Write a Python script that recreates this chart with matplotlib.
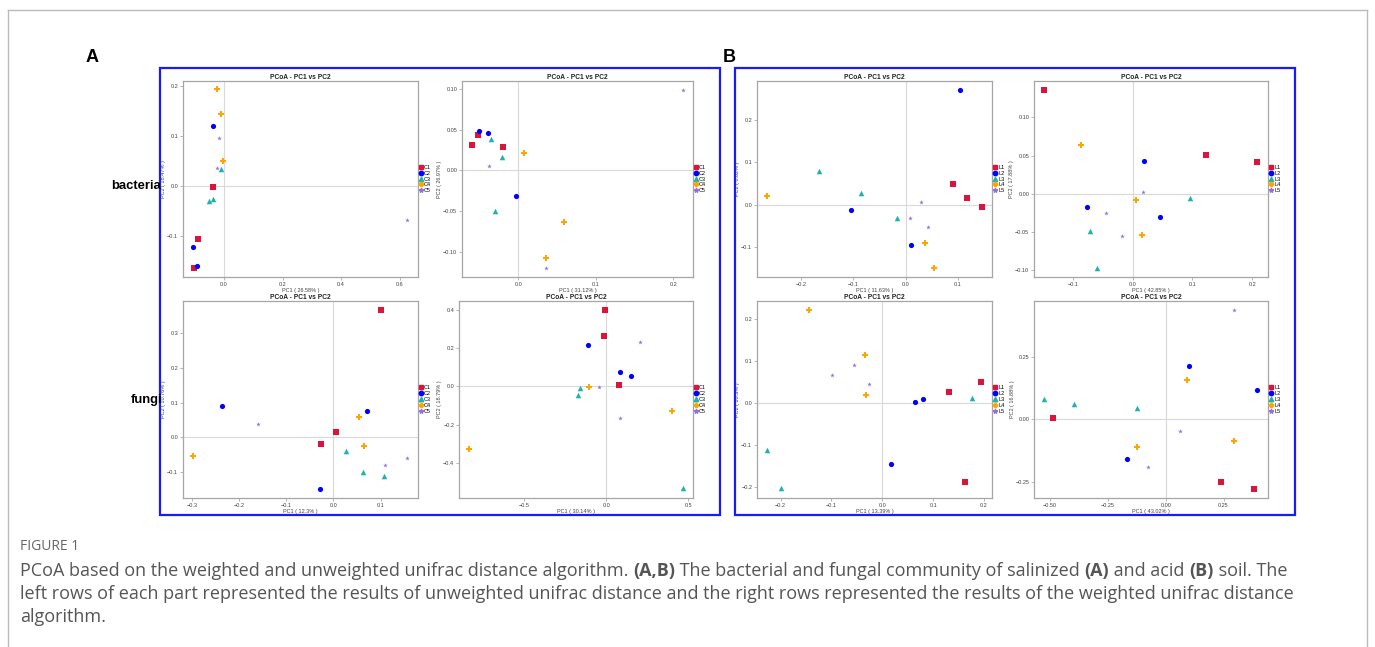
import matplotlib
matplotlib.use("Agg")
import matplotlib.pyplot as plt
from matplotlib.lines import Line2D
from matplotlib.patches import Rectangle

W, H = 1375, 647
DPI = 100

plt.rcParams["font.family"] = ["Liberation Sans", "DejaVu Sans"]

# ---------------- data ----------------
groups_c = ["C1", "C2", "C3", "C4", "C5"]
groups_l = ["L1", "L2", "L3", "L4", "L5"]

# Panel A, bacteria, unweighted
a_bac_u_x = {"C1": [-0.038, -0.089, -0.103], "C2": [-0.038, -0.105, -0.091],
             "C3": [-0.011, -0.038, -0.052], "C4": [-0.025, -0.010, -0.005],
             "C5": [-0.017, -0.025, 0.626]}
a_bac_u_y = {"C1": [-0.001, -0.105, -0.164], "C2": [0.120, -0.121, -0.159],
             "C3": [0.035, -0.026, -0.029], "C4": [0.194, 0.145, 0.050],
             "C5": [0.096, 0.036, -0.067]}
# Panel A, bacteria, weighted
a_bac_w_x = {"C1": [-0.0595, -0.0522, -0.0197], "C2": [-0.0501, -0.0385, -0.0034],
             "C3": [-0.0347, -0.0206, -0.0300], "C4": [0.0073, 0.0595, 0.0360],
             "C5": [-0.0373, 0.0364, 0.2120]}
a_bac_w_y = {"C1": [0.0314, 0.0429, 0.0290], "C2": [0.0486, 0.0465, -0.0310],
             "C3": [0.0384, 0.0159, -0.0502], "C4": [0.0208, -0.0637, -0.1082],
             "C5": [0.0049, -0.1200, 0.0992]}
# Panel A, fungi, unweighted
a_fun_u_x = {"C1": [0.1018, 0.005, -0.0254], "C2": [-0.2353, 0.0721, -0.0276],
             "C3": [0.0261, 0.0622, 0.1067], "C4": [-0.2968, 0.0544, 0.0657],
             "C5": [-0.1597, 0.1088, 0.1562]}
a_fun_u_y = {"C1": [0.368, 0.0154, -0.0202], "C2": [0.0904, 0.075, -0.149],
             "C3": [-0.0413, -0.101, -0.1115], "C4": [-0.0548, 0.0596, -0.0269],
             "C5": [0.0375, -0.0808, -0.0606]}
# Panel A, fungi, weighted
a_fun_w_x = {"C1": [-0.010, -0.016, 0.079], "C2": [-0.114, 0.081, 0.151],
             "C3": [-0.159, -0.171, 0.466], "C4": [-0.839, -0.106, 0.401],
             "C5": [-0.043, 0.084, 0.208]}
a_fun_w_y = {"C1": [0.398, 0.260, 0.005], "C2": [0.215, 0.073, 0.052],
             "C3": [-0.009, -0.045, -0.532], "C4": [-0.327, -0.005, -0.130],
             "C5": [-0.002, -0.163, 0.229]}
# Panel B, bacteria, unweighted
b_bac_u_x = {"L1": [0.0906, 0.118, 0.1455], "L2": [0.1034, -0.1047, 0.0102],
             "L3": [-0.1653, -0.0849, -0.0166], "L4": [-0.2648, 0.037, 0.0549],
             "L5": [0.0287, 0.0077, 0.0421]}
b_bac_u_y = {"L1": [0.0497, 0.0158, -0.0055], "L2": [0.273, -0.0134, -0.0971],
             "L3": [0.0789, 0.0284, -0.0316], "L4": [0.0213, -0.0923, -0.1507],
             "L5": [0.0071, -0.0308, -0.0537]}
# Panel B, bacteria, weighted
b_bac_w_x = {"L1": [-0.1475, 0.1235, 0.2084], "L2": [0.0184, -0.0754, 0.0464],
             "L3": [0.0955, -0.0709, -0.0592], "L4": [-0.086, 0.005, 0.0162],
             "L5": [0.0179, -0.0447, -0.0179]}
b_bac_w_y = {"L1": [0.1362, 0.0512, 0.0421], "L2": [0.0425, -0.0174, -0.0304],
             "L3": [-0.0056, -0.0482, -0.0963], "L4": [0.0633, -0.0074, -0.0538],
             "L5": [0.0022, -0.0243, -0.0547]}
# Panel B, fungi, unweighted
b_fun_u_x = {"L1": [0.132, 0.194, 0.1627], "L2": [0.0647, 0.0797, 0.0163],
             "L3": [0.1765, -0.2261, -0.1993], "L4": [-0.1444, -0.0346, -0.032],
             "L5": [-0.098, -0.0562, -0.0268]}
b_fun_u_y = {"L1": [0.0262, 0.0492, -0.1889], "L2": [0.0024, 0.0095, -0.1468],
             "L3": [0.0127, -0.1127, -0.204], "L4": [0.2222, 0.1151, 0.019],
             "L5": [0.0659, 0.0913, 0.0444]}
# Panel B, fungi, weighted
b_fun_w_x = {"L1": [-0.4884, 0.2384, 0.3815], "L2": [0.1012, 0.3945, -0.1691],
             "L3": [-0.5246, -0.3974, -0.1257], "L4": [0.091, 0.2948, -0.1257],
             "L5": [0.2962, 0.0621, -0.0751]}
b_fun_w_y = {"L1": [0.004, -0.2533, -0.2787], "L2": [0.2147, 0.1187, -0.16],
             "L3": [0.0813, 0.0613, 0.044], "L4": [0.1573, -0.0867, -0.1093],
             "L5": [0.44, -0.0467, -0.1907]}

pc1_labels = ["PC1 ( 26.58% )", "PC1 ( 31.12% )", "PC1 ( 12.3% )", "PC1 ( 30.14% )",
              "PC1 ( 11.63% )", "PC1 ( 42.85% )", "PC1 ( 13.39% )", "PC1 ( 43.02% )"]
pc2_labels = ["PC2 ( 18.47% )", "PC2 ( 26.97% )", "PC2 ( 10.76% )", "PC2 ( 18.79% )",
              "PC2 ( 8.62% )", "PC2 ( 17.88% )", "PC2 ( 10.3% )", "PC2 ( 16.88% )"]

xticks_list = [[0.0, 0.2, 0.4, 0.6], [0.0, 0.1, 0.2], [-0.3, -0.2, -0.1, 0.0, 0.1],
               [-0.5, 0.0, 0.5], [-0.2, -0.1, 0.0, 0.1], [-0.1, 0.0, 0.1, 0.2],
               [-0.2, -0.1, 0.0, 0.1, 0.2], [-0.5, -0.25, 0.0, 0.25]]
yticks_list = [[-0.1, 0.0, 0.1, 0.2], [-0.10, -0.05, 0.0, 0.05, 0.10],
               [-0.1, 0.0, 0.1, 0.2, 0.3], [-0.4, -0.2, 0.0, 0.2, 0.4],
               [-0.1, 0.0, 0.1, 0.2], [-0.10, -0.05, 0.0, 0.05, 0.10],
               [-0.2, -0.1, 0.0, 0.1, 0.2], [-0.25, 0.0, 0.25]]
xfmt = ["%.1f", "%.1f", "%.1f", "%.1f", "%.1f", "%.1f", "%.1f", "%.2f"]
yfmt = ["%.1f", "%.2f", "%.1f", "%.1f", "%.1f", "%.2f", "%.1f", "%.2f"]
xlims = [(-0.140, 0.663), (-0.0724, 0.2253), (-0.319, 0.1795), (-0.900, 0.5295),
         (-0.2846, 0.1653), (-0.1648, 0.2263), (-0.2464, 0.2157), (-0.5694, 0.4422)]
ylims = [(-0.182, 0.211), (-0.131, 0.1098), (-0.176, 0.394), (-0.582, 0.445),
         (-0.172, 0.2936), (-0.1085, 0.1475), (-0.227, 0.2429), (-0.316, 0.4747)]

# ---------------- style ----------------
colors = ["#DC143C", "#0000FF", "#20B2AA", "#FFA500", "#9370DB"]
markers = ["s", "o", "^", "P", "*"]
msizes = [14, 14, 16, 14, 12]

fig = plt.figure(figsize=(W / DPI, H / DPI), dpi=DPI)
fig.patch.set_facecolor("white")


def px_axes(x0, y0, x1, y1):
    return fig.add_axes([x0 / W, 1 - y1 / H, (x1 - x0) / W, (y1 - y0) / H])


# outer grey frame
fig.add_artist(Line2D([8 / W, 1367 / W], [1 - 10 / H, 1 - 10 / H], color="#bbbbbb", lw=1))
fig.add_artist(Line2D([8 / W, 8 / W], [0, 1 - 10 / H], color="#bbbbbb", lw=1))
fig.add_artist(Line2D([1367 / W, 1367 / W], [0, 1 - 10 / H], color="#bbbbbb", lw=1))

# blue panel boxes
for bx0, bx1 in [(160, 720), (735, 1295)]:
    fig.add_artist(Rectangle((bx0 / W, 1 - 515 / H), (bx1 - bx0) / W, (515 - 68) / H,
                             fill=False, edgecolor="#1a1aff", lw=1.6))

boxes = [(183, 81, 418, 277), (462, 81, 693, 277), (183, 301, 418, 498), (459, 301, 693, 498),
         (757, 81, 992, 277), (1034, 81, 1268, 277), (757, 301, 992, 498), (1034, 301, 1268, 498)]
datasets = [(a_bac_u_x, a_bac_u_y, groups_c), (a_bac_w_x, a_bac_w_y, groups_c),
            (a_fun_u_x, a_fun_u_y, groups_c), (a_fun_w_x, a_fun_w_y, groups_c),
            (b_bac_u_x, b_bac_u_y, groups_l), (b_bac_w_x, b_bac_w_y, groups_l),
            (b_fun_u_x, b_fun_u_y, groups_l), (b_fun_w_x, b_fun_w_y, groups_l)]

for i, (box, (dx, dy, grp)) in enumerate(zip(boxes, datasets)):
    ax = px_axes(*box)
    ax.axhline(0, color="#d9d9d9", lw=0.8, zorder=0)
    ax.axvline(0, color="#d9d9d9", lw=0.8, zorder=0)
    handles = []
    for g, c, m, s in zip(grp, colors, markers, msizes):
        ax.scatter(dx[g], dy[g], s=s, c=c, marker=m, linewidths=0, zorder=3)
        handles.append(Line2D([], [], ls="", marker=m, color=c, markersize=3.2, label=g))
    ax.set_xlim(*xlims[i])
    ax.set_ylim(*ylims[i])
    ax.set_xticks(xticks_list[i])
    ax.set_yticks(yticks_list[i])
    ax.set_xticklabels([(xfmt[i] % v).replace("-", "\u2212") for v in xticks_list[i]])
    ax.set_yticklabels([(yfmt[i] % v).replace("-", "\u2212") for v in yticks_list[i]])
    ax.tick_params(labelsize=4, length=2, width=0.5, colors="#999999",
                   labelcolor="#444444", pad=1.5)
    for sp in ax.spines.values():
        sp.set_color("#a6a6a6")
        sp.set_linewidth(0.9)
    ax.set_title("PCoA - PC1 vs PC2", fontsize=4.8, fontweight="bold", pad=1.5, color="#222222")
    ax.set_xlabel(pc1_labels[i], fontsize=4, labelpad=0.5, color="#444444")
    ax.set_ylabel(pc2_labels[i], fontsize=4, labelpad=0.5, color="#444444")
    ax.legend(handles=handles, loc="center left", bbox_to_anchor=(1.0, 0.5), frameon=False,
              fontsize=4, handlelength=0.6, handletextpad=0.2, labelspacing=0.15,
              borderaxespad=0.3, borderpad=0)

# panel letters and row labels
fig.text(86 / W, 1 - 58 / H, "A", fontsize=13, fontweight="bold", va="center", ha="left")
fig.text(723 / W, 1 - 58 / H, "B", fontsize=13, fontweight="bold", va="center", ha="left")
fig.text(161 / W, 1 - 186 / H, "bacteria", fontsize=9.4, fontweight="bold", va="center", ha="right")
fig.text(162 / W, 1 - 400 / H, "fungi", fontsize=9.4, fontweight="bold", va="center", ha="right")

# caption
cap_color = "#555555"
cap_font = "Open Sans"
fig.text(20 / W, 1 - 546 / H, "FIGURE 1", fontsize=10, color="#666666", family=cap_font,
         va="center", ha="left")

renderer = fig.canvas.get_renderer()


def rich_line(y, segments, x=20, size=13.0):
    cur = x / W
    for txt, bold in segments:
        t = fig.text(cur, 1 - y / H, txt, fontsize=size, color=cap_color, family=cap_font,
                     fontweight="bold" if bold else "normal", va="center", ha="left")
        bb = t.get_window_extent(renderer=renderer)
        cur += bb.width / W


rich_line(571, [("PCoA based on the weighted and unweighted unifrac distance algorithm. ", False),
                ("(A,B)", True), (" The bacterial and fungal community of salinized ", False),
                ("(A)", True), (" and acid ", False), ("(B)", True), (" soil. The", False)])
rich_line(594, [("left rows of each part represented the results of unweighted unifrac distance "
                 "and the right rows represented the results of the weighted unifrac distance", False)])
rich_line(617, [("algorithm.", False)])

fig.savefig("out.png", dpi=DPI)
